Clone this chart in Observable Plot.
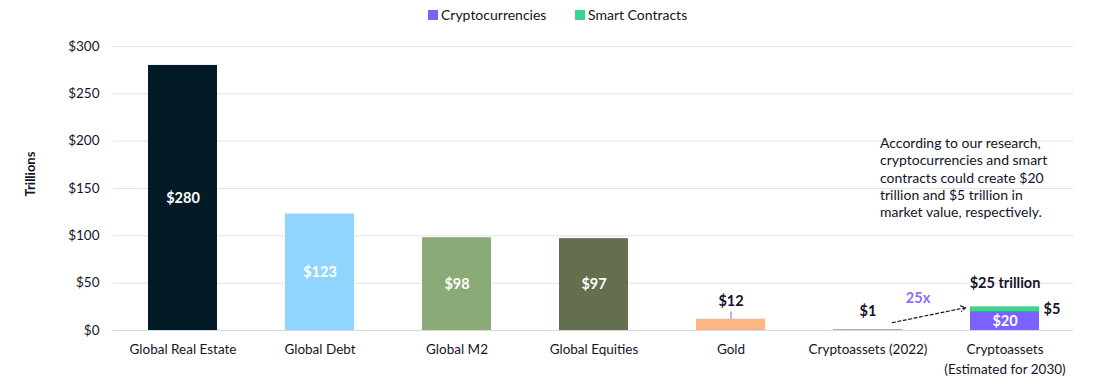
<!DOCTYPE html>
<html><head><meta charset="utf-8">
<script src="https://cdn.jsdelivr.net/npm/d3@7"></script>
<script src="https://cdn.jsdelivr.net/npm/@observablehq/plot@0.6"></script>
<style>
body{margin:0;background:#fff;font-family:Lato,"Open Sans",sans-serif;color:#1b1b33;}
#legend{position:relative;height:30px;width:1100px;font-size:14px;color:#141428;}
.li{position:absolute;top:6px;display:flex;align-items:center;white-space:nowrap;}
.sw{width:10px;height:10px;margin-right:3px;display:inline-block;}
</style></head><body>
<div id="legend"></div>
<div id="chart"></div>
<script>
const categories = ["Global Real Estate","Global Debt","Global M2","Global Equities","Gold","Cryptoassets (2022)","Cryptoassets\n(Estimated for 2030)"];
const values = [280,123,98,97,12,1];
const barColors = ["#021b26","#8fd5fd","#8aaa78","#646f50","#fdb683","#a898f7"];
const stackSeries = ["Cryptocurrencies","Smart Contracts"];
const stackValues = [20,5];
const stackColors = ["#7b61ff","#3ad590"];
const yTicks = [0,50,100,150,200,250,300];
const stackTotalLabel = "$25 trillion";
const growthLabel = "25x";
const arrowFrom = [3, 25];   // [value, pixel inset]
const arrowTo = [32.7, 40];
const note = "According to our research,\ncryptocurrencies and smart\ncontracts could create $20\ntrillion and $5 trillion in\nmarket value, respectively.";
const noteAnchor = 206;

// legend
const legend = document.getElementById("legend");
const legendLeft = [428, 575];
stackSeries.forEach((s, i) => {
  const d = document.createElement("div");
  d.className = "li"; d.style.left = legendLeft[i] + "px";
  d.innerHTML = `<span class="sw" style="background:${stackColors[i]}"></span>${s}`;
  legend.appendChild(d);
});

const mainData = values.map((v, i) => ({cat: categories[i], value: v, color: barColors[i], label: "$" + v}));
const stackCat = categories[6];
const stackData = stackValues.map((v, i) => ({cat: stackCat, series: stackSeries[i], value: v, color: stackColors[i]}));

const txt = "#141428";
const chart = Plot.plot({
  width: 1100, height: 357,
  marginTop: 16, marginBottom: 57, marginLeft: 113, marginRight: 27,
  style: {fontFamily: "Lato, 'Open Sans', sans-serif", fontSize: "13px", color: txt, background: "white"},
  x: {domain: categories, paddingInner: 0.5, paddingOuter: 0.25, axis: null},
  y: {domain: [0, 300], axis: null},
  color: {type: "identity"},
  marks: [
    Plot.gridY(yTicks, {stroke: "#e3e3e8", strokeOpacity: 1}),
    Plot.axisY(yTicks, {tickFormat: d => "$" + d, tickSize: 0, tickPadding: 14, label: null, fontSize: 13.5}),
    Plot.ruleY([0], {stroke: "#d8d8e0"}),
    Plot.barY(mainData, {x: "cat", y: "value", fill: "color"}),
    Plot.barY(stackData, {x: "cat", y: "value", fill: "color"}),
    Plot.text(mainData.slice(0, 4), {x: "cat", y: d => d.value / 2, text: "label", fill: "white", fontWeight: "bold", fontSize: 14.5}),
    Plot.text(mainData.slice(4), {x: "cat", y: "value", text: "label", fill: txt, fontWeight: "bold", fontSize: 14.5, dy: -18}),
    Plot.ruleX(mainData.slice(4, 5), {x: "cat", y1: "value", y2: "value", insetTop: -7, stroke: "#7b61ff"}),
    Plot.text(stackData.slice(0, 1), {x: "cat", y: d => d.value / 2, text: d => "$" + d.value, fill: "white", fontWeight: "bold", fontSize: 14.5}),
    Plot.text(stackData.slice(1), {x: "cat", y: d => stackValues[0] + d.value / 2, text: d => "$" + d.value, fill: txt, fontWeight: "bold", fontSize: 14.5, dx: 47}),
    Plot.text([stackCat], {x: d => d, y: d3.sum(stackValues), text: () => stackTotalLabel, fill: txt, fontWeight: "bold", fontSize: 14.5, dy: -23}),
    Plot.text([categories[5]], {x: d => d, y: 34, text: () => growthLabel, fill: "#8b6cf6", fontWeight: "bold", fontSize: 14.5, dx: 50}),
    Plot.arrow([0], {x1: () => categories[5], y1: () => arrowFrom[0], x2: () => categories[6], y2: () => arrowTo[0],
      insetStart: arrowFrom[1], insetEnd: arrowTo[1], stroke: txt, strokeWidth: 1.2, strokeDasharray: "3,2.5", headLength: 7}),
    Plot.text([note], {x: () => categories[5], y: noteAnchor, text: d => d, textAnchor: "start", lineAnchor: "top", dx: 12, fontSize: 14, lineHeight: 1.24, fill: txt}),
    Plot.text(categories, {x: d => d, y: 0, text: d => d, lineAnchor: "top", dy: 10, lineHeight: 1.45, fill: txt, fontSize: 13.5}),
    Plot.text(["Trillions"], {frameAnchor: "left", text: d => d, rotate: -90, dx: -83, dy: 8, fontWeight: "bold", fontSize: 13, fill: txt})
  ]
});
document.getElementById("chart").appendChild(chart);
</script>
</body></html>
